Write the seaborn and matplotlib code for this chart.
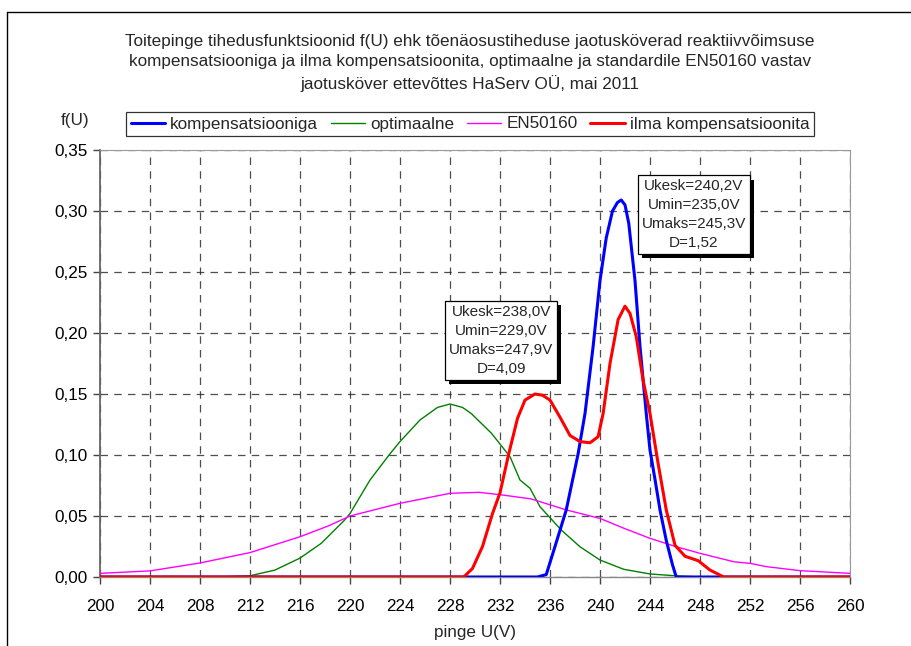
import numpy as np
import pandas as pd
import matplotlib
matplotlib.use("Agg")
import matplotlib.pyplot as plt
import matplotlib.patheffects as pe
from matplotlib.lines import Line2D
import seaborn as sns

# ---- data ----
title = ("Toitepinge tihedusfunktsioonid f(U) ehk tõenäosustiheduse jaotusköverad reaktiivvõimsuse\n"
         "kompensatsiooniga ja ilma kompensatsioonita, optimaalne ja standardile EN50160 vastav\n"
         "jaotusköver ettevõttes HaServ OÜ, mai 2011")
x_label = "pinge U(V)"
y_label = "f(U)"
series_names = ["kompensatsiooniga", "optimaalne", "EN50160", "ilma kompensatsioonita"]

u_komp = [200, 220, 235.0, 235.7, 236.4, 237.3, 238.25, 238.8, 239.45, 240.0, 240.5, 241.0, 241.4,
          241.7, 242.0, 242.3, 242.8, 243.2, 243.7, 244.0, 244.4, 244.8, 245.3, 245.8, 246.1, 250, 260]
f_komp = [0, 0, 0, 0.002, 0.025, 0.055, 0.101, 0.134, 0.189, 0.243, 0.278, 0.300, 0.307,
          0.309, 0.305, 0.290, 0.243, 0.189, 0.134, 0.104, 0.080, 0.055, 0.030, 0.010, 0.0, 0, 0]

u_opt = [200, 209.7, 212, 214, 216, 217.7, 219.6, 220, 221.6, 223.2, 224, 225.6, 227, 228,
         229.0, 229.7, 231.3, 232, 232.8, 233.6, 234.4, 235.2, 236.9, 238.4, 240, 241.9, 244, 246, 248, 260]
f_opt = [0, 0, 0.001, 0.0057, 0.0155, 0.0276, 0.047, 0.052, 0.0795, 0.101, 0.111, 0.1287, 0.139, 0.1418,
         0.139, 0.134, 0.118, 0.109, 0.0986, 0.0795, 0.0727, 0.0576, 0.0385, 0.0248, 0.0139, 0.0063, 0.0025,
         0.001, 0, 0]

u_en = [200, 204, 208, 212, 216, 218.3, 220, 224, 228, 230.3, 232, 234.5, 237.3, 240, 241.9, 244,
        246.1, 248, 250.7, 252, 253.3, 256, 260]
f_en = [0.003, 0.005, 0.0115, 0.020, 0.033, 0.042, 0.050, 0.0604, 0.0686, 0.0694, 0.0675, 0.064, 0.055,
        0.048, 0.040, 0.0317, 0.0248, 0.0194, 0.0125, 0.0112, 0.0085, 0.0052, 0.003]

u_ilma = [200, 229.1, 229.8, 230.6, 231.4, 232.0, 232.7, 233.4, 234.0, 234.8, 235.4, 236.0, 236.8,
          237.6, 238.4, 239.2, 239.85, 240.25, 240.8, 241.45, 242.0, 242.4, 242.9, 243.45, 244.0,
          244.65, 245.3, 246.0, 246.8, 247.85, 248.8, 249.9, 260]
f_ilma = [0, 0, 0.007, 0.025, 0.052, 0.069, 0.101, 0.130, 0.145, 0.150, 0.149, 0.145, 0.131,
          0.116, 0.111, 0.110, 0.115, 0.134, 0.175, 0.211, 0.222, 0.216, 0.197, 0.161, 0.134,
          0.093, 0.055, 0.026, 0.017, 0.0134, 0.0057, 0, 0]

box1_text = "Ukesk=238,0V\nUmin=229,0V\nUmaks=247,9V\nD=4,09"
box2_text = "Ukesk=240,2V\nUmin=235,0V\nUmaks=245,3V\nD=1,52"

x_ticks = list(range(200, 261, 4))
y_ticks = [0.00, 0.05, 0.10, 0.15, 0.20, 0.25, 0.30, 0.35]

# ---- plot ----
sns.set_theme(style="white")
plt.rcParams['font.family'] = ['Liberation Sans', 'DejaVu Sans']

FS = 12.3
fig = plt.figure(figsize=(9.11, 6.46), dpi=100)
W, H = 911, 646
ax = fig.add_axes([100 / W, 1 - 577 / H, 750 / W, 427 / H])

colors = ["#0000FF", "#008000", "#FF00FF", "#FF0000"]
widths = [2.2, 1.0, 1.0, 2.2]
zorders = [4, 2, 3, 5]
datasets = [(u_komp, f_komp), (u_opt, f_opt), (u_en, f_en), (u_ilma, f_ilma)]

for name, (u, f), c, lw, z in zip(series_names, datasets, colors, widths, zorders):
    df = pd.DataFrame({"U": u, "f": f})
    sns.lineplot(data=df, x="U", y="f", ax=ax, color=c, linewidth=lw, zorder=z,
                 sort=False, estimator=None)

ax.set_xlim(200, 260)
ax.set_ylim(0, 0.35)
ax.set_xticks(x_ticks)
ax.set_yticks(y_ticks)
ax.set_xticklabels([str(t) for t in x_ticks], fontsize=FS)
ax.set_yticklabels([f"{t:.2f}".replace(".", ",") for t in y_ticks], fontsize=FS)
ax.set_xlabel(x_label, fontsize=FS, labelpad=8)
ax.set_ylabel("")
ax.grid(True, color="#222222", linestyle=(0, (6, 5)), linewidth=0.9, alpha=0.8)
ax.set_axisbelow(True)
for side in ["top", "right"]:
    ax.spines[side].set_color("#999999")
    ax.spines[side].set_linewidth(0.8)
ax.spines["left"].set_color("#666666")
ax.spines["left"].set_linewidth(1.3)
ax.spines["bottom"].set_color("#888888")
ax.spines["bottom"].set_linewidth(1.0)
ax.tick_params(axis="both", which="major", direction="out", length=5, width=1,
               color="#444444", bottom=True, left=True, pad=4, labelcolor="black")
ax.tick_params(axis="x", pad=11)

# f(U) label
fig.text(75 / W, 1 - 120 / H, y_label, ha="center", va="center", fontsize=FS)

# title
fig.text(470 / W, 1 - 63 / H, title, ha="center", va="center", fontsize=FS, linespacing=1.45)

# legend
handles = [Line2D([0], [0], color=c, lw=lw) for c, lw in zip(colors, widths)]
leg = fig.legend(handles, series_names, loc="center", bbox_to_anchor=(470 / W, 1 - 124 / H),
                 ncol=4, frameon=True, fontsize=FS, handlelength=2.0, handletextpad=0.3,
                 columnspacing=0.75, borderpad=0.25, fancybox=False)
leg.get_frame().set_edgecolor("black")
leg.get_frame().set_linewidth(0.9)

# annotation boxes with shadow
for txt, xu, yf in [(box1_text, 232.1, 0.194), (box2_text, 247.5, 0.297)]:
    t = ax.text(xu, yf, txt, ha="center", va="center", fontsize=11, zorder=10,
                linespacing=1.45,
                bbox=dict(boxstyle="square,pad=0.25", facecolor="white", edgecolor="black", linewidth=0.9))
    t.get_bbox_patch().set_path_effects([
        pe.SimplePatchShadow(offset=(3, -3), shadow_rgbFace="black", alpha=1.0), pe.Normal()])

# outer frame (left and top edges visible)
fig.add_artist(Line2D([7 / W, 7 / W], [0, 1 - 12 / H], color="black", lw=1.0, transform=fig.transFigure))
fig.add_artist(Line2D([7 / W, 1], [1 - 12 / H, 1 - 12 / H], color="black", lw=1.0, transform=fig.transFigure))

fig.savefig("out.png", dpi=100)
